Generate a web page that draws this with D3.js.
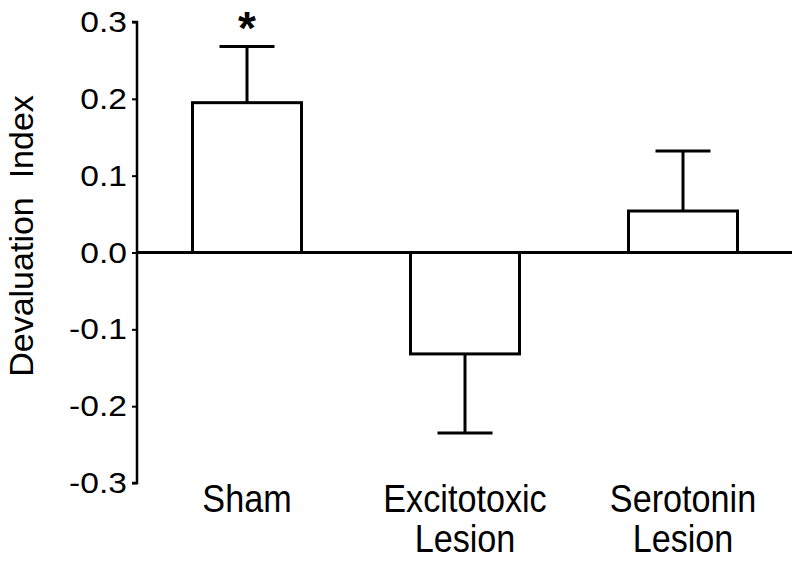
<!DOCTYPE html>
<html>
<head>
<meta charset="utf-8">
<script src="https://cdn.jsdelivr.net/npm/d3@7"></script>
<style>
	body { margin: 0; background: #fff; }
	text { font-family: "Liberation Sans", Arial, sans-serif; fill: #000; }
</style>
</head>
<body>
<div id="chart"></div>
<script>

// values
var groups = ["Sham", "Excitotoxic Lesion", "Serotonin Lesion"]
var groupLines = [["Sham"], ["Excitotoxic", "Lesion"], ["Serotonin", "Lesion"]]
var means = [0.195, -0.132, 0.054]
var errors = [0.073, 0.103, 0.078]
var yTicks = [-0.3, -0.2, -0.1, 0.0, 0.1, 0.2, 0.3]
var starred = ["Sham"]

var width = 800
var height = 562

var svg = d3.select("#chart").append("svg")
	.attr("width", width)
	.attr("height", height)

var y = d3.scaleLinear()
	.domain([-0.3, 0.3])
	.range([483, 22])

var x = d3.scaleBand()
	.domain(groups)
	.range([138, 792])
	.paddingInner(0.5)
	.paddingOuter(0.25)

// y axis, plain hyphen for negatives like the original
var fmt = d3.format(".1f")
var yAxis = d3.axisLeft(y)
	.tickValues(yTicks)
	.tickFormat(d => fmt(d).replace("\u2212", "-"))
	.tickSize(5)
	.tickPadding(4)

var yAxisGroup = svg.append("g")
	.attr("transform", "translate(137, 0)")
	.call(yAxis)

yAxisGroup.select(".domain")
	.attr("stroke-width", 2.5)
	.attr("d", "M-5," + y(0.3) + "H0V" + y(-0.3) + "H-5")
yAxisGroup.selectAll(".tick line").attr("stroke-width", 2)
yAxisGroup.selectAll(".tick text")
	.attr("font-size", 30)
	.attr("font-family", null)
	.attr("transform", "scale(1.12,1)")

// bars
svg.append("g")
	.selectAll("rect")
	.data(groups)
	.enter()
	.append("rect")
	.attr("x", d => x(d))
	.attr("width", x.bandwidth())
	.attr("y", (d, i) => y(Math.max(0, means[i])))
	.attr("height", (d, i) => Math.abs(y(means[i]) - y(0)))
	.attr("fill", "white")
	.attr("stroke", "black")
	.attr("stroke-width", 3)

// error bars (one-sided, away from zero)
var capHalf = 27.5
groups.forEach(function(g, i) {
	var cx = x(g) + x.bandwidth() / 2
	var sign = means[i] >= 0 ? 1 : -1
	var end = y(means[i] + sign * errors[i])

	svg.append("line")
		.attr("x1", cx).attr("x2", cx)
		.attr("y1", y(means[i])).attr("y2", end)
		.attr("stroke", "black")
		.attr("stroke-width", 3)

	svg.append("line")
		.attr("x1", cx - capHalf).attr("x2", cx + capHalf)
		.attr("y1", end).attr("y2", end)
		.attr("stroke", "black")
		.attr("stroke-width", 3)

	if (starred.indexOf(g) >= 0) {
		svg.append("text")
			.attr("x", cx)
			.attr("y", end - 3)
			.attr("text-anchor", "middle")
			.attr("font-size", 46)
			.attr("font-weight", "bold")
			.text("*")
	}
})

// zero line
svg.append("line")
	.attr("x1", 137).attr("x2", x.range()[1])
	.attr("y1", y(0)).attr("y2", y(0))
	.attr("stroke", "black")
	.attr("stroke-width", 3)

// category labels
groups.forEach(function(g, i) {
	var cx = x(g) + x.bandwidth() / 2
	var label = svg.append("text")
		.attr("text-anchor", "middle")
		.attr("font-size", 38)
		.attr("transform", "translate(" + cx + ", 512) scale(0.9,1)")

	groupLines[i].forEach(function(line, j) {
		label.append("tspan")
			.attr("x", 0)
			.attr("y", j * 40)
			.text(line)
	})
})

// y title
svg.append("text")
	.attr("transform", "translate(33, 236) rotate(-90)")
	.attr("text-anchor", "middle")
	.attr("font-size", 34)
	.style("white-space", "pre")
	.text("Devaluation  Index")

</script>
</body>
</html>
